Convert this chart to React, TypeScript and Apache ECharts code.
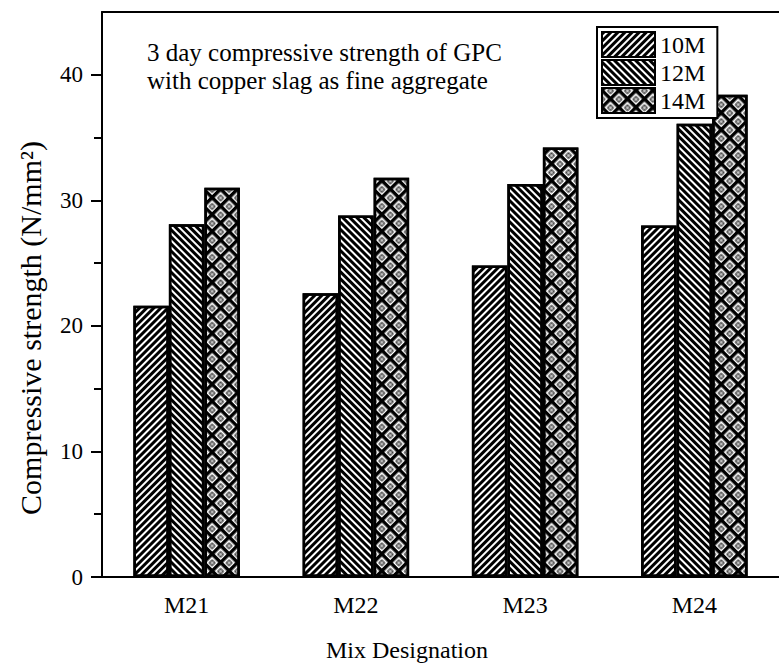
import React, { useEffect, useRef } from 'react';
import * as echarts from 'echarts';

const categories = ['M21', 'M22', 'M23', 'M24'];
const seriesNames = ['10M', '12M', '14M'];
const m10 = [21.6, 22.6, 24.8, 28.0];
const m12 = [28.1, 28.8, 31.3, 36.1];
const m14 = [31.0, 31.8, 34.2, 38.4];
const yMajorTicks = [0, 10, 20, 30, 40];
const yMinorTicks = [5, 15, 25, 35];
const titleLines = ['3 day compressive strength of GPC', 'with copper slag as fine aggregate'];
const xAxisTitle = 'Mix Designation';
const yAxisTitle = 'Compressive strength (N/mm²)';

const FONT = '"Liberation Serif", "Times New Roman", serif';

export default function App() {
  const ref = useRef<HTMLDivElement>(null);
  useEffect(() => {
    document.body.style.margin = '0';
    const chart = echarts.init(ref.current!, null, { renderer: 'svg' });

    const decal10 = {
      symbol: 'rect', symbolSize: 1, dashArrayX: [1, 0], dashArrayY: [3, 2],
      rotation: -Math.PI / 4, color: '#000', backgroundColor: '#fff',
    };
    const decal12 = {
      symbol: 'rect', symbolSize: 1, dashArrayX: [1, 0], dashArrayY: [3, 2],
      rotation: Math.PI / 4, color: '#000', backgroundColor: '#fff',
    };
    const decal14 = {
      symbol: 'path://M0 0H12V3.5H0Z M0 0H3.5V12H0Z M5.5 5.5H10.5V6.5H5.5Z M5.5 9.5H10.5V10.5H5.5Z M5.5 5.5H6.5V10.5H5.5Z M9.5 5.5H10.5V10.5H9.5Z M7.5 7.5H8.5V8.5H7.5Z',
      symbolSize: 1, symbolKeepAspect: false, dashArrayX: [12, 0], dashArrayY: [12, 0],
      rotation: Math.PI / 4, color: '#000', backgroundColor: '#fff',
    };
    const decals = [decal10, decal12, decal14];
    const values = [m10, m12, m14];

    const axisLine = { show: true, lineStyle: { color: '#000', width: 2 } };
    const tickStyle = { color: '#000', width: 2 };

    chart.setOption({
      animation: false,
      grid: { left: 102, top: 12, width: 692, height: 565, containLabel: false },
      legend: {
        orient: 'vertical', left: 597, top: 27,
        itemWidth: 53, itemHeight: 25, itemGap: 1, icon: 'rect',
        padding: [4, 12, 4, 4], borderColor: '#000', borderWidth: 2, backgroundColor: '#fff',
        textStyle: { fontSize: 24, fontFamily: FONT, color: '#000', lineHeight: 25 },
        itemStyle: { borderColor: '#000', borderWidth: 2 },
        data: seriesNames,
      },
      graphic: [
        {
          type: 'text', left: 147, top: 38,
          style: { text: titleLines.join('\n'), fontSize: 25, fontFamily: FONT, fill: '#000', lineHeight: 28 },
        },
        {
          type: 'text', x: 407, y: 650,
          style: { text: xAxisTitle, fontSize: 24, fontFamily: FONT, fill: '#000', align: 'center', verticalAlign: 'middle' },
        },
        {
          type: 'text', x: 30, y: 328, rotation: Math.PI / 2,
          style: { text: yAxisTitle, fontSize: 30, fontFamily: FONT, fill: '#000', align: 'center', verticalAlign: 'middle' },
        },
      ],
      xAxis: [
        {
          type: 'category', data: categories, position: 'bottom',
          axisLine, axisTick: { alignWithLabel: true, length: 10, lineStyle: tickStyle },
          axisLabel: { fontSize: 24, fontFamily: FONT, color: '#000', margin: 16 },
          splitLine: { show: false },
        },
        {
          type: 'category', data: categories, position: 'bottom',
          axisLine: { show: false }, axisTick: { length: 6, lineStyle: tickStyle },
          axisLabel: { show: false }, splitLine: { show: false },
        },
        {
          type: 'category', data: categories, position: 'top',
          axisLine, axisTick: { alignWithLabel: true, inside: true, length: 11, lineStyle: tickStyle },
          axisLabel: { show: false }, splitLine: { show: false },
        },
        {
          type: 'category', data: categories, position: 'top',
          axisLine: { show: false }, axisTick: { inside: true, length: 6, lineStyle: tickStyle },
          axisLabel: { show: false }, splitLine: { show: false },
        },
      ],
      yAxis: [
        {
          type: 'value', min: 0, max: 45, interval: 10, position: 'left',
          axisLine, axisTick: { show: true, customValues: yMajorTicks, length: 11, lineStyle: tickStyle },
          axisLabel: { customValues: yMajorTicks, fontSize: 23, fontFamily: FONT, color: '#000', margin: 19 },
          splitLine: { show: false },
        },
        {
          type: 'value', min: 0, max: 45, interval: 10, position: 'left',
          axisLine: { show: false },
          axisTick: { show: true, customValues: yMinorTicks, length: 8, lineStyle: tickStyle },
          axisLabel: { show: false }, splitLine: { show: false },
        },
      ],
      series: seriesNames.map((name, i) => ({
        type: 'bar', name, data: values[i], xAxisIndex: 0, yAxisIndex: 0,
        barWidth: 35.5, barGap: '0%',
        itemStyle: { color: '#fff', borderColor: '#000', borderWidth: 2.5, decal: decals[i] },
      })),
    });
    return () => chart.dispose();
  }, []);
  return <div ref={ref} style={{ width: 779, height: 664 }} />;
}
